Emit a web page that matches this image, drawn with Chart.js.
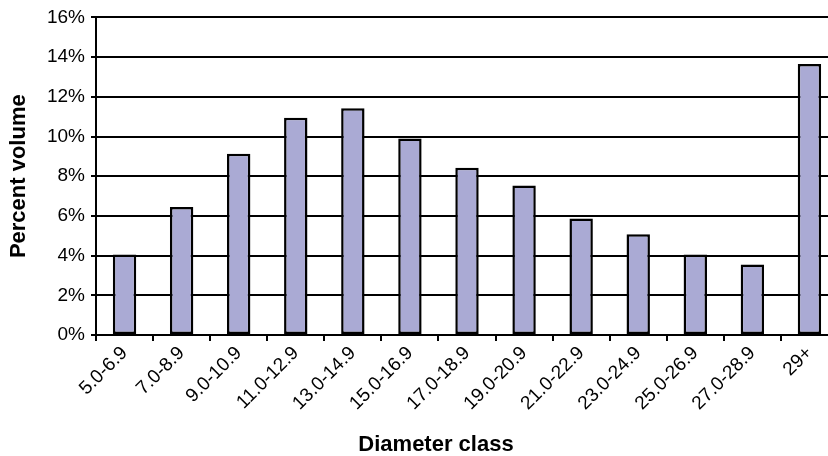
<!DOCTYPE html>
<html>
<head>
<meta charset="utf-8">
<script src="https://cdn.jsdelivr.net/npm/chart.js@4/dist/chart.umd.min.js"></script>
<style>
  html, body { margin: 0; padding: 0; background: #fff; overflow: hidden; }
  #wrap { width: 828px; height: 456px; overflow: hidden; }
</style>
</head>
<body>
<div id="wrap">
  <canvas id="chart" width="840" height="456" style="width:840px;height:456px"></canvas>
</div>
<script>
/* ==================== DATA ==================== */
const classes = ["5.0-6.9", "7.0-8.9", "9.0-10.9", "11.0-12.9", "13.0-14.9", "15.0-16.9",
  "17.0-18.9", "19.0-20.9", "21.0-22.9", "23.0-24.9", "25.0-26.9", "27.0-28.9", "29+"];
const percentVolume = [4.05, 6.45, 9.13, 10.95, 11.42, 9.9, 8.42, 7.53, 5.87, 5.08, 4.05, 3.55, 13.65];
const yTicks = [0, 2, 4, 6, 8, 10, 12, 14, 16];

const FONT = "'Liberation Sans', Arial, sans-serif";

// x axis title sits a bit left of the plot centre in the original
const xTitlePlugin = {
  id: "xTitle",
  afterDraw(chart) {
    const ctx = chart.ctx;
    ctx.save();
    ctx.font = "bold 22px " + FONT;
    ctx.fillStyle = "#000";
    ctx.textAlign = "center";
    ctx.textBaseline = "alphabetic";
    ctx.fillText("Diameter class", chart.chartArea.left + 340, 451);
    ctx.restore();
  }
};

/* ==================== CHART ==================== */
new Chart(document.getElementById("chart"), {
  type: "bar",
  data: {
    labels: classes,
    datasets: [{
      data: percentVolume,
      backgroundColor: "#aaaad4",
      borderColor: "#000",
      borderWidth: 2.5,
      borderSkipped: false,
      barPercentage: 0.41,
      categoryPercentage: 1
    }]
  },
  options: {
    responsive: false,
    devicePixelRatio: 1,
    animation: false,
    layout: { padding: { top: 15, right: 2, bottom: 0, left: 0 } },
    plugins: { legend: { display: false }, tooltip: { enabled: false } },
    scales: {
      x: {
        offset: true,
        grid: {
          offset: true,
          drawOnChartArea: false,
          drawTicks: true,
          tickLength: 6,
          color: "#000",
          lineWidth: 2
        },
        border: { color: "#000", width: 2 },
        ticks: {
          color: "#000",
          font: { family: FONT, size: 19 },
          minRotation: 45,
          maxRotation: 45,
          autoSkip: false,
          padding: 1
        },
        afterFit: (s) => { s.height = 121; }
      },
      y: {
        min: 0,
        max: 16,
        afterBuildTicks: (s) => { s.ticks = yTicks.map(v => ({ value: v })); },
        grid: { color: "#000", lineWidth: 2, tickLength: 5 },
        border: { color: "#000", width: 2 },
        ticks: {
          color: "#000",
          font: { family: FONT, size: 19 },
          padding: 6,
          callback: (v) => v + "%"
        },
        title: {
          display: true,
          text: "Percent volume",
          color: "#000",
          font: { family: FONT, size: 22, weight: "bold" },
          padding: { top: 6, bottom: 0 }
        },
        afterFit: (s) => { s.width = 96; }
      }
    }
  },
  plugins: [xTitlePlugin]
});
</script>
</body>
</html>
